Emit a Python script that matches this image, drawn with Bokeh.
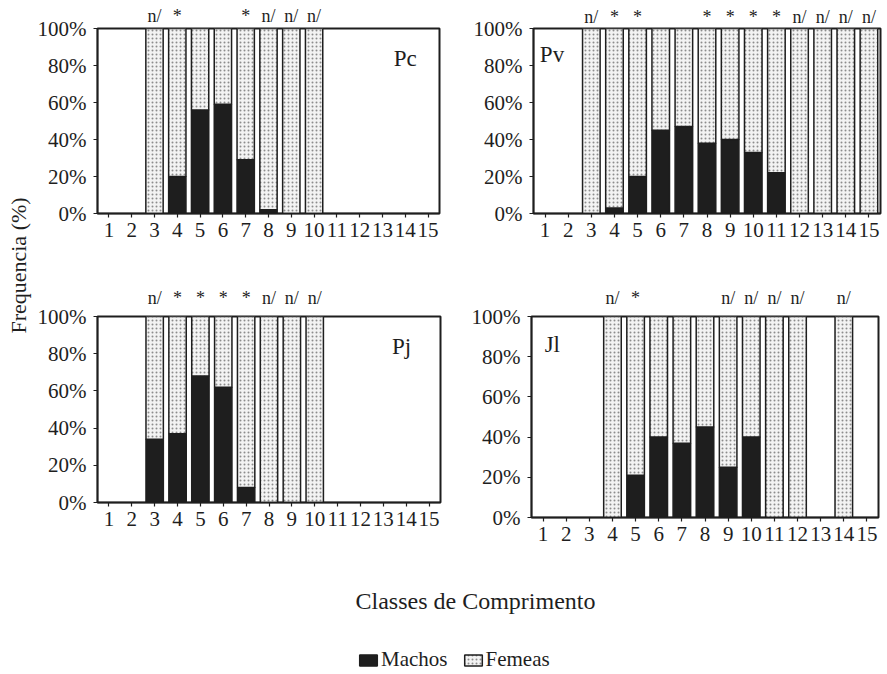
import math
from bokeh.plotting import figure
from bokeh.models import (Range1d, FixedTicker, ColumnDataSource, Label, LinearAxis,
                          Legend, LegendItem)
from bokeh.layouts import row, column
from bokeh.embed import file_html
from bokeh.resources import INLINE

FONT = "Liberation Serif"
INK = "#1e1e1e"
FEM_FILL = "#f3f3f3"
HATCH = "#8c8c8c"

# ---------------- data ----------------
x_ticks = list(range(1, 16))
x_tick_labels = [str(i) for i in x_ticks]
y_ticks = [0, 20, 40, 60, 80, 100]
y_tick_labels = ["0%", "20%", "40%", "60%", "80%", "100%"]

pc_classes = [3, 4, 5, 6, 7, 8, 9, 10]
pc_machos = [0, 20, 56, 59, 29, 2, 0, 0]
pc_femeas = [100, 80, 44, 41, 71, 98, 100, 100]
pc_notes = ["n/", "*", "", "", "*", "n/", "n/", "n/"]

pv_classes = [3, 4, 5, 6, 7, 8, 9, 10, 11, 12, 13, 14, 15]
pv_machos = [0, 3, 20, 45, 47, 38, 40, 33, 22, 0, 0, 0, 0]
pv_femeas = [100, 97, 80, 55, 53, 62, 60, 67, 78, 100, 100, 100, 100]
pv_notes = ["n/", "*", "*", "", "", "*", "*", "*", "*", "n/", "n/", "n/", "n/"]

pj_classes = [3, 4, 5, 6, 7, 8, 9, 10]
pj_machos = [34, 37, 68, 62, 8, 0, 0, 0]
pj_femeas = [66, 63, 32, 38, 92, 100, 100, 100]
pj_notes = ["n/", "*", "*", "*", "*", "n/", "n/", "n/"]

jl_classes = [4, 5, 6, 7, 8, 9, 10, 11, 12, 14]
jl_machos = [0, 21, 40, 37, 45, 25, 40, 0, 0, 0]
jl_femeas = [100, 79, 60, 63, 55, 75, 60, 100, 100, 100]
jl_notes = ["n/", "*", "", "", "", "n/", "n/", "n/", "n/", "n/"]

series_names = ["Machos", "Femeas"]
x_title = "Classes de Comprimento"
y_title = "Frequencia (%)"

BAR_W = 0.76


def bar_styles(hatched):
    if hatched:
        return dict(fill_color=FEM_FILL, hatch_pattern="dot", hatch_color=HATCH,
                    hatch_scale=4, hatch_weight=1.2, line_color=INK, line_width=1.5)
    return dict(fill_color=INK, line_color=INK, line_width=1.5)


def make_panel(classes, machos, femeas, notes, name, name_pos, geom):
    left, fw, right, top, fh, bottom, note_off = geom
    p = figure(frame_width=fw, frame_height=fh,
               x_range=Range1d(0.5, 15.5), y_range=Range1d(0, 100),
               output_backend="svg", toolbar_location=None,
               min_border_left=left, min_border_right=right,
               min_border_top=top, min_border_bottom=bottom)
    p.background_fill_color = "white"
    p.border_fill_color = "white"
    p.outline_line_color = INK
    p.outline_line_width = 2
    p.xgrid.visible = False
    p.ygrid.visible = False

    p.xaxis.ticker = FixedTicker(ticks=x_ticks)
    p.xaxis.major_label_overrides = {t: l for t, l in zip(x_ticks, x_tick_labels)}
    p.yaxis.ticker = FixedTicker(ticks=y_ticks)
    p.yaxis.major_label_overrides = {t: l for t, l in zip(y_ticks, y_tick_labels)}
    for ax in (p.xaxis, p.yaxis):
        ax.major_tick_in = 0
        ax.major_tick_out = 4
        ax.minor_tick_in = 0
        ax.minor_tick_out = 0
        ax.axis_line_color = INK
        ax.axis_line_width = 1.5
        ax.major_tick_line_color = INK
        ax.major_tick_line_width = 1.2
        ax.major_label_text_font = FONT
        ax.major_label_text_font_size = "21px"
        ax.major_label_text_color = INK
    p.xaxis.major_label_standoff = 5
    p.yaxis.major_label_standoff = 7

    src = ColumnDataSource(dict(
        x=classes, m=machos, f=femeas,
        top=[a + b for a, b in zip(machos, femeas)],
    ))
    p.vbar(x="x", top="m", width=BAR_W, source=src, **bar_styles(False))
    p.vbar(x="x", bottom="m", top="top", width=BAR_W, source=src, **bar_styles(True))

    # significance notes as an axis above the frame
    note_ticks = [c for c, n in zip(classes, notes) if n]
    note_axis = LinearAxis(ticker=FixedTicker(ticks=note_ticks),
                           major_label_overrides={c: n for c, n in zip(classes, notes) if n},
                           axis_line_color=None, major_tick_line_color=None,
                           major_tick_in=0, major_tick_out=0,
                           minor_tick_in=0, minor_tick_out=0,
                           minor_tick_line_color=None,
                           major_label_standoff=note_off,
                           major_label_text_font=FONT,
                           major_label_text_font_size="18px",
                           major_label_text_color=INK)
    p.add_layout(note_axis, "above")

    p.add_layout(Label(x=name_pos[0], y=name_pos[1], text=name, text_font=FONT,
                       text_font_size="23px", text_color=INK,
                       text_align="center", text_baseline="middle"))
    return p, src


# geometry: (min_border_left, frame_w, min_border_right, min_border_top, frame_h, min_border_bottom, note standoff)
p1, s1 = make_panel(pc_classes, pc_machos, pc_femeas, pc_notes, "Pc", (14.0, 84),
                    (63, 342, 20, 28, 185, 57, 3))
p2, s2 = make_panel(pv_classes, pv_machos, pv_femeas, pv_notes, "Pv", (1.3, 86),
                    (74, 347, 5, 28, 185, 57, 2))
p3, s3 = make_panel(pj_classes, pj_machos, pj_femeas, pj_notes, "Pj", (13.8, 84),
                    (62, 343, 20, 44, 186, 60, 9))
p4, s4 = make_panel(jl_classes, jl_machos, jl_femeas, jl_notes, "Jl", (1.4, 86),
                    (71, 347, 7, 46, 201, 43, 9))

# y title strip
ylab = figure(width=34, height=560, x_range=Range1d(0, 1), y_range=Range1d(0, 1),
              x_axis_location=None, y_axis_location=None, min_border=0,
              toolbar_location=None, output_backend="svg")
ylab.outline_line_color = None
ylab.xgrid.visible = False
ylab.ygrid.visible = False
ylab.add_layout(Label(x=18, y=295, x_units="screen", y_units="screen", text=y_title,
                      angle=math.pi / 2, text_font=FONT, text_font_size="22px",
                      text_color=INK, text_align="center", text_baseline="middle"))

# bottom strip: x title + legend (legend renderers share panel data but are hidden)
bot = figure(width=885, height=112, x_range=Range1d(0.5, 15.5), y_range=Range1d(0, 100),
             x_axis_location=None, y_axis_location=None, min_border=0,
             toolbar_location=None, output_backend="svg")
bot.outline_line_color = None
bot.xgrid.visible = False
bot.ygrid.visible = False
bot.add_layout(Label(x=475, y=72, x_units="screen", y_units="screen", text=x_title,
                     text_font=FONT, text_font_size="24px", text_color=INK,
                     text_align="center", text_baseline="middle"))
r_m = bot.vbar(x="x", top="m", width=BAR_W, source=s1, visible=False, **bar_styles(False))
r_f = bot.vbar(x="x", bottom="m", top="top", width=BAR_W, source=s1, visible=False,
               **bar_styles(True))
legend = Legend(items=[LegendItem(label=series_names[0], renderers=[r_m]),
                       LegendItem(label=series_names[1], renderers=[r_f])],
                orientation="horizontal", location=(357, 0),
                glyph_width=22, glyph_height=14, label_standoff=2, spacing=14,
                padding=0, margin=0, border_line_color=None,
                background_fill_alpha=0, label_text_font=FONT,
                label_text_font_size="21px", label_text_color=INK,
                label_height=14, inactive_fill_alpha=0)
bot.add_layout(legend)

layout = column(row(ylab, column(row(p1, p2), row(p3, p4))), bot)

open("out.html", "w").write(file_html(layout, INLINE))
